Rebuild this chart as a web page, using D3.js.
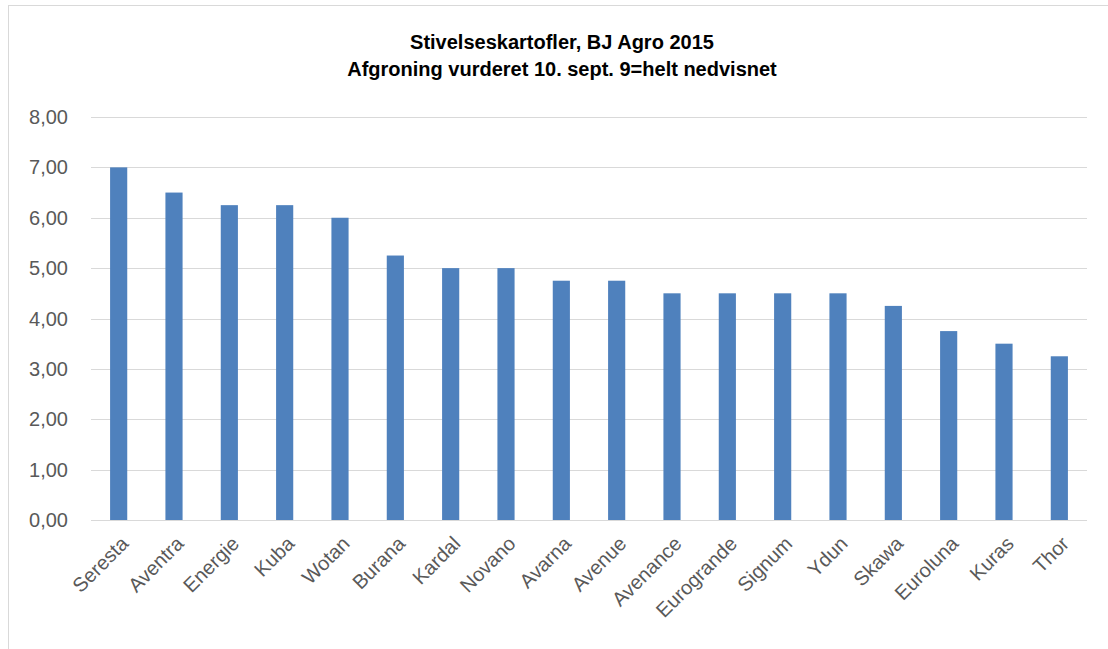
<!DOCTYPE html>
<html>
<head>
    <title>Stivelseskartofler, BJ Agro 2015</title>
    <script src="https://d3js.org/d3.v7.min.js"></script>
    <style>
        body {
            margin: 0;
            background-color: #fff;
            font-family: "Liberation Sans", Arial, sans-serif;
        }

        .grid line {
            stroke: #d9d9d9;
            stroke-width: 1px;
        }

        .tick-label {
            font-size: 20px;
            fill: #595959;
        }

        .title {
            font-size: 20px;
            font-weight: bold;
            fill: #000;
        }
    </style>
</head>
<body>
    <svg width="1108" height="649"></svg>

    <script>
        // Chart data
        var varieties = ["Seresta", "Aventra", "Energie", "Kuba", "Wotan", "Burana", "Kardal", "Novano",
            "Avarna", "Avenue", "Avenance", "Eurogrande", "Signum", "Ydun", "Skawa", "Euroluna", "Kuras", "Thor"];
        var scores = [7, 6.5, 6.25, 6.25, 6, 5.25, 5, 5, 4.75, 4.75, 4.5, 4.5, 4.5, 4.5, 4.25, 3.75, 3.5, 3.25];
        var yTicks = [0, 1, 2, 3, 4, 5, 6, 7, 8];
        var titleLines = ["Stivelseskartofler, BJ Agro 2015", "Afgroning vurderet 10. sept. 9=helt nedvisnet"];

        var svg = d3.select("svg");

        // Chart frame
        svg.append("rect")
            .attr("x", 8.5)
            .attr("y", 5.5)
            .attr("width", 1120)
            .attr("height", 670)
            .attr("fill", "none")
            .attr("stroke", "#d9d9d9");

        var plot = { left: 91, right: 1087, top: 117, bottom: 520 };

        var x = d3.scaleBand()
            .domain(varieties)
            .range([plot.left, plot.right])
            .paddingInner(0.69)
            .paddingOuter(0.345);

        var y = d3.scaleLinear()
            .domain([0, 8])
            .range([plot.bottom, plot.top]);

        // Gridlines
        svg.append("g")
            .attr("class", "grid")
            .selectAll("line")
            .data(yTicks)
            .enter().append("line")
            .attr("x1", plot.left)
            .attr("x2", plot.right)
            .attr("y1", function(d) { return Math.round(y(d)) + 0.5; })
            .attr("y2", function(d) { return Math.round(y(d)) + 0.5; });

        // Y tick labels
        var fmt = function(d) { return d3.format(".2f")(d).replace(".", ","); };
        svg.append("g")
            .selectAll("text")
            .data(yTicks)
            .enter().append("text")
            .attr("class", "tick-label")
            .attr("x", 68)
            .attr("y", function(d) { return y(d); })
            .attr("dy", "0.35em")
            .attr("text-anchor", "end")
            .text(fmt);

        // Bars
        svg.append("g")
            .selectAll("rect")
            .data(scores)
            .enter().append("rect")
            .attr("x", function(d, i) { return x(varieties[i]); })
            .attr("width", x.bandwidth())
            .attr("y", function(d) { return y(d); })
            .attr("height", function(d) { return y(0) - y(d); })
            .attr("fill", "#4f81bd");

        // X labels, rotated
        svg.append("g")
            .selectAll("text")
            .data(varieties)
            .enter().append("text")
            .attr("class", "tick-label")
            .attr("text-anchor", "end")
            .attr("transform", function(d) {
                return "translate(" + (x(d) + x.bandwidth() / 2 + 6) + "," + 540 + ") rotate(-45)";
            })
            .attr("dy", "0.35em")
            .text(function(d) { return d; });

        // Title
        svg.append("g")
            .selectAll("text")
            .data(titleLines)
            .enter().append("text")
            .attr("class", "title")
            .attr("x", 562)
            .attr("y", function(d, i) { return 49 + i * 27; })
            .attr("text-anchor", "middle")
            .text(function(d) { return d; });
    </script>
</body>
</html>
